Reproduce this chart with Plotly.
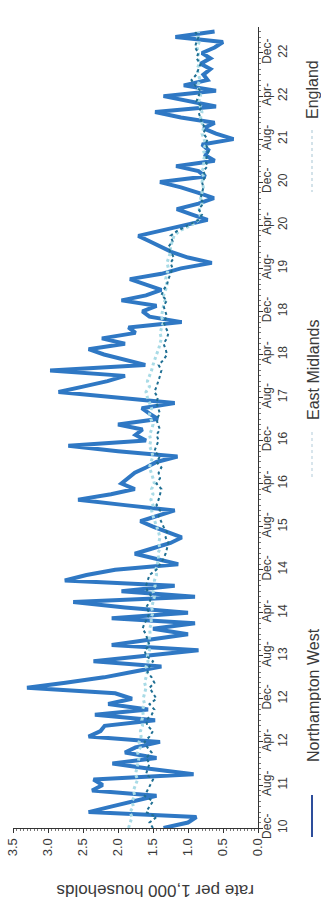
import pandas as pd
import plotly.graph_objects as go

# Monthly categories Dec-2010 .. Apr-2023
months = pd.date_range("2010-12-01", periods=149, freq="MS").strftime("%Y-%m-%d").tolist()

northampton_west = [
    1.35, 1.00, 0.88, 2.42, 2.10, 1.75, 1.45, 2.37, 2.22, 2.35, 0.92, 1.55,
    2.08, 1.45, 1.90, 1.75, 1.40, 2.42, 2.25, 2.19, 1.47, 2.33, 1.57, 2.14,
    1.80, 2.04, 3.30, 2.75, 2.20, 1.80, 1.38, 2.35, 1.60, 0.85, 2.09, 1.50,
    1.00, 1.50, 0.90, 2.09, 1.00, 1.90, 2.64, 0.90, 1.95, 1.19, 2.76, 2.45,
    2.04, 1.14, 1.45, 1.76, 1.50, 1.25, 1.09, 1.30, 1.50, 1.68, 1.45, 1.19,
    1.90, 2.57, 2.10, 1.76, 1.95, 1.85, 1.76, 1.60, 1.45, 1.15, 2.00, 2.71,
    1.60, 1.75, 1.65, 2.00, 1.43, 1.55, 1.66, 1.19, 2.00, 2.85, 2.50, 2.15,
    1.90, 2.97, 1.61, 1.90, 2.20, 2.42, 1.90, 2.23, 1.75, 1.85, 1.09, 1.55,
    1.65, 1.45, 1.95, 1.60, 1.38, 1.60, 1.83, 1.38, 1.10, 0.66, 1.00, 1.23,
    1.40, 1.55, 1.71, 1.40, 1.05, 0.72, 0.95, 1.16, 0.85, 0.63, 0.85, 1.10,
    1.40, 0.75, 0.85, 1.17, 0.62, 0.75, 0.71, 0.80, 0.35, 0.60, 0.78, 0.62,
    1.10, 1.47, 0.60, 0.95, 1.35, 0.60, 1.06, 0.72, 0.78, 0.68, 0.82, 0.68,
    0.80, 0.62, 0.50, 1.18, 0.62,
]

east_midlands = [
    1.50, 1.55, 1.45, 1.60, 1.55, 1.50, 1.62, 1.58, 1.55, 1.50, 1.60, 1.57,
    1.55, 1.60, 1.52, 1.58, 1.62, 1.55, 1.50, 1.58, 1.60, 1.52, 1.48, 1.55,
    1.45, 1.50, 1.55, 1.48, 1.52, 1.58, 1.55, 1.50, 1.60, 1.62, 1.55, 1.58,
    1.60, 1.65, 1.62, 1.58, 1.55, 1.60, 1.55, 1.52, 1.58, 1.60, 1.58, 1.55,
    1.45, 1.40, 1.35, 1.32, 1.30, 1.28, 1.32, 1.30, 1.35, 1.38, 1.42, 1.40,
    1.45, 1.42, 1.40, 1.38, 1.45, 1.40, 1.42, 1.38, 1.45, 1.40, 1.48, 1.45,
    1.42, 1.45, 1.40, 1.43, 1.45, 1.40, 1.42, 1.45, 1.43, 1.48, 1.45, 1.42,
    1.40, 1.38, 1.42, 1.35, 1.30, 1.32, 1.35, 1.30, 1.28, 1.32, 1.35, 1.30,
    1.32, 1.35, 1.30, 1.38, 1.35, 1.30, 1.28, 1.25, 1.22, 1.25, 1.20, 1.25,
    1.28, 1.22, 1.25, 1.15, 1.00, 0.85, 0.80, 0.85, 0.78, 0.82, 0.80, 0.78,
    0.80, 0.75, 0.78, 0.72, 0.75, 0.72, 0.70, 0.75, 0.72, 0.78, 0.75, 0.80,
    0.82, 0.85, 0.80, 0.88, 0.85, 0.82, 0.90, 0.95, 0.88, 0.85, 0.82, 0.88,
    0.85, 0.90, 0.88, 0.85, 0.90,
]

england = [
    1.85, 1.82, 1.80, 1.83, 1.78, 1.80, 1.76, 1.78, 1.75, 1.72, 1.75, 1.73,
    1.72, 1.70, 1.72, 1.68, 1.70, 1.67, 1.68, 1.65, 1.66, 1.64, 1.65, 1.62,
    1.64, 1.62, 1.60, 1.62, 1.60, 1.58, 1.60, 1.57, 1.58, 1.55, 1.57, 1.55,
    1.54, 1.55, 1.52, 1.53, 1.50, 1.52, 1.50, 1.48, 1.50, 1.47, 1.48, 1.45,
    1.46, 1.44, 1.42, 1.43, 1.40, 1.42, 1.40, 1.42, 1.45, 1.47, 1.50, 1.52,
    1.50, 1.53, 1.50, 1.52, 1.48, 1.50, 1.52, 1.55, 1.53, 1.50, 1.52, 1.55,
    1.53, 1.55, 1.52, 1.50, 1.53, 1.55, 1.52, 1.55, 1.58, 1.60, 1.55, 1.58,
    1.55, 1.52, 1.50, 1.48, 1.45, 1.42, 1.40, 1.38, 1.40, 1.37, 1.35, 1.38,
    1.36, 1.35, 1.33, 1.35, 1.32, 1.30, 1.32, 1.30, 1.28, 1.30, 1.27, 1.25,
    1.25, 1.22, 1.20, 1.12, 0.95, 0.85, 0.82, 0.84, 0.80, 0.82, 0.80, 0.78,
    0.80, 0.78, 0.80, 0.77, 0.78, 0.76, 0.78, 0.75, 0.77, 0.80, 0.78, 0.80,
    0.82, 0.80, 0.83, 0.85, 0.82, 0.84, 0.86, 0.83, 0.85, 0.87, 0.84, 0.86,
    0.85, 0.87, 0.84, 0.86, 0.85,
]

date_tick_vals = ["2010-12-01", "2011-08-01", "2012-04-01", "2012-12-01", "2013-08-01",
                  "2014-04-01", "2014-12-01", "2015-08-01", "2016-04-01", "2016-12-01",
                  "2017-08-01", "2018-04-01", "2018-12-01", "2019-08-01", "2020-04-01",
                  "2020-12-01", "2021-08-01", "2022-04-01", "2022-12-01"]
date_tick_text = ["Dec-<br>10", "Aug-<br>11", "Apr-<br>12", "Dec-<br>12", "Aug-<br>13",
                  "Apr-<br>14", "Dec-<br>14", "Aug-<br>15", "Apr-<br>16", "Dec-<br>16",
                  "Aug-<br>17", "Apr-<br>18", "Dec-<br>18", "Aug-<br>19", "Apr-<br>20",
                  "Dec-<br>20", "Aug-<br>21", "Apr-<br>22", "Dec-<br>22"]
value_ticks = [0.0, 0.5, 1.0, 1.5, 2.0, 2.5, 3.0, 3.5]

series_names = ["Northampton West", "East Midlands", "England"]

W, H = 321, 906
# plot area in page pixels
X0, X1, Y0, Y1 = 13, 258, 27, 828

def px(x):
    return x / W

def py(y):
    return (H - y) / H

FONT = "Liberation Sans, Arial, sans-serif"
TXT = "#3a3a3a"

fig = go.Figure()
fig.add_trace(go.Scatter(x=northampton_west, y=months, mode="lines",
                         line=dict(color="#2f78c4", width=4), name=series_names[0]))
fig.add_trace(go.Scatter(x=england, y=months, mode="lines",
                         line=dict(color="#a9dbe6", width=3, dash="dot"), name=series_names[2]))
fig.add_trace(go.Scatter(x=east_midlands, y=months, mode="lines",
                         line=dict(color="#1f6f93", width=2, dash="dot"), name=series_names[1]))

fig.update_layout(
    width=W, height=H,
    margin=dict(l=0, r=0, t=0, b=0, pad=0),
    paper_bgcolor="white", plot_bgcolor="white",
    showlegend=False,
    font=dict(family=FONT, color=TXT, size=12),
)
fig.update_xaxes(
    domain=[px(X0), px(X1)],
    range=[3.5, 0], tickvals=value_ticks, tickformat=".1f", tickangle=-90,
    showgrid=False, zeroline=False, showline=True, linecolor="#333", linewidth=1,
    ticks="outside", ticklen=4, tickcolor="#333", automargin=False,
    tickfont=dict(size=13, family=FONT, color=TXT),
    minor=dict(ticks="outside", ticklen=2, dtick=0.05, tickcolor="#777"),
)
fig.update_yaxes(
    domain=[py(Y1), py(Y0)],
    type="date", side="right", range=["2010-12-01", "2023-04-27"],
    tickvals=date_tick_vals, ticktext=date_tick_text, tickangle=-90,
    showgrid=False, zeroline=False, showline=True, linecolor="#333", linewidth=1,
    ticks="outside", ticklen=4, tickcolor="#333", ticklabelstandoff=-6, automargin=False,
    tickfont=dict(size=12, family=FONT, color=TXT),
    minor=dict(ticks="outside", ticklen=2, dtick="M1", tickcolor="#777"),
)

# rotated axis title (upside down as in the reference)
fig.add_annotation(text="rate per 1,000 households", xref="paper", yref="paper",
                   x=px(155), y=py(891), showarrow=False, textangle=180,
                   xanchor="center", yanchor="middle",
                   font=dict(size=17, family=FONT, color=TXT))

# legend, rotated
legend_items = [
    (series_names[0], 695, (795, 837), dict(color="#2d4d9b", width=2, dash="solid")),
    (series_names[1], 370, (432, 478), dict(color="#d8e5ec", width=2, dash="dot")),
    (series_names[2], 90, (130, 192), dict(color="#d3e2e9", width=2, dash="dot")),
]
for name, yc, (y0, y1), ln in legend_items:
    fig.add_annotation(text=name, xref="paper", yref="paper", x=px(313), y=py(yc),
                       showarrow=False, textangle=-90, xanchor="center", yanchor="middle",
                       font=dict(size=16, family=FONT, color=TXT))
    fig.add_shape(type="line", xref="paper", yref="paper",
                  x0=px(312), x1=px(312), y0=py(y0), y1=py(y1), line=ln)

fig.write_html("out.html", config={"displayModeBar": False},
               post_script="document.body.style.margin='0';document.body.style.padding='0';")
